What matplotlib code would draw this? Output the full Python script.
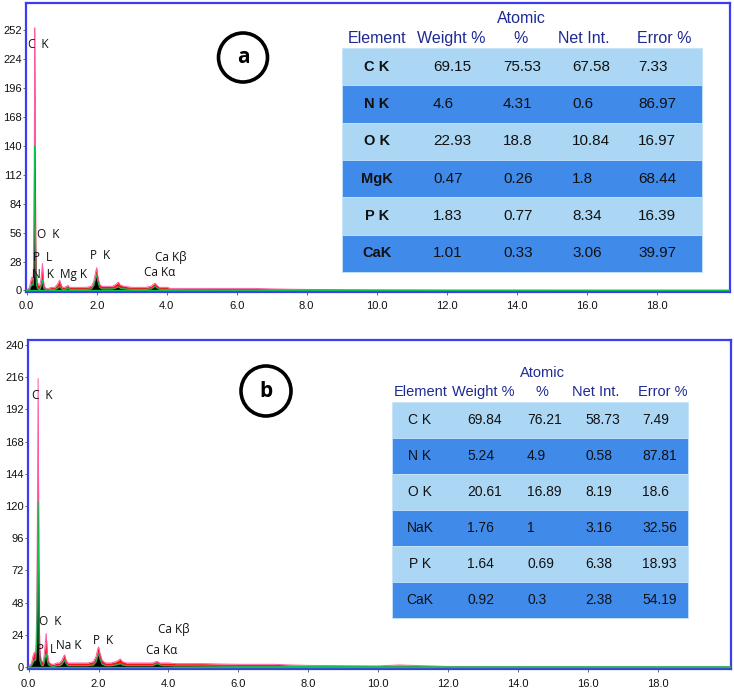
import matplotlib
matplotlib.use("Agg")
import matplotlib.pyplot as plt
from matplotlib import font_manager
from matplotlib.patches import Rectangle, Circle

# ---------------- data ----------------
# Panel (a) spectrum: energy (keV) and counts
A_energy = [0.00, 0.08, 0.12, 0.15, 0.18, 0.20, 0.215, 0.23, 0.245, 0.26, 0.28, 0.31, 0.34, 0.37,
            0.40, 0.43, 0.45, 0.47, 0.49, 0.52, 0.56, 0.62, 0.70, 0.80, 0.88, 0.94, 0.98, 1.02,
            1.08, 1.14, 1.18, 1.22, 1.30, 1.40, 1.55, 1.70, 1.85, 1.92, 1.97, 2.00, 2.03, 2.08,
            2.15, 2.30, 2.45, 2.55, 2.62, 2.68, 2.80, 3.00, 3.20, 3.40, 3.55, 3.62, 3.67, 3.72,
            3.80, 3.95, 4.02, 4.10, 4.30, 4.60, 5.00, 5.50, 6.00, 6.50, 7.00, 7.50, 8.00, 9.00,
            10.0, 12.0, 15.0, 20.1]
A_counts = [0, 3, 10, 13, 10, 30, 120, 254, 150, 40, 14, 8, 5, 5,
            9, 18, 26, 14, 6, 3, 2, 2, 3, 3, 6, 10, 6, 3,
            3, 4, 5, 3, 3, 3, 3, 3, 4, 9, 18, 22, 14, 6,
            4, 4, 4, 6, 8, 5, 4, 3, 3, 3, 4, 6, 7, 5,
            3, 3, 3, 2, 2, 2, 2, 2, 2, 2, 1.5, 1.2, 1, 0.8,
            0.5, 0.3, 0.2, 0.2]
A_fit = [0, 1, 4, 6, 5, 15, 80, 140, 75, 18, 5, 2, 1, 1,
         3, 7, 10, 5, 2, 1, 0.5, 0.5, 1, 1, 2, 4, 2, 1,
         1, 1.5, 2, 1, 1, 1, 1, 1, 1.5, 5, 12, 15, 9, 3,
         1.5, 1.5, 1.5, 2.5, 3.5, 2, 1.5, 1, 1, 1, 1.5, 3, 4, 2.5,
         1, 1, 1, 0.8, 0.8, 0.7, 0.6, 0.5, 0.5, 0.5, 0.4, 0.3, 0.3, 0.2,
         0.2, 0.1, 0.1, 0.1]

# Panel (b) spectrum
B_energy = [0.00, 0.08, 0.12, 0.16, 0.20, 0.23, 0.25, 0.27, 0.285, 0.30, 0.32, 0.35, 0.38, 0.41,
            0.44, 0.47, 0.50, 0.53, 0.56, 0.60, 0.66, 0.72, 0.80, 0.88, 0.95, 1.00, 1.03, 1.07,
            1.12, 1.20, 1.30, 1.40, 1.55, 1.70, 1.85, 1.93, 1.97, 2.00, 2.04, 2.10, 2.20, 2.35,
            2.50, 2.57, 2.62, 2.68, 2.80, 3.00, 3.20, 3.40, 3.55, 3.64, 3.69, 3.75, 3.85, 4.00,
            4.20, 4.60, 5.00, 5.50, 6.00, 6.50, 7.00, 7.50, 8.00, 9.00, 10.0, 10.6, 12.0, 15.0,
            20.1]
B_counts = [0, 3, 8, 11, 10, 40, 120, 215, 120, 40, 12, 6, 4, 4,
            8, 16, 25, 12, 5, 3, 2, 2, 3, 3, 5, 8, 9, 5,
            3, 3, 3, 3, 3, 3, 4, 8, 13, 15, 10, 5, 3, 3,
            4, 5, 6, 4, 3, 3, 3, 3, 3, 4, 4, 3, 3, 3,
            2.5, 2.5, 2.5, 2.2, 2, 2, 2, 1.5, 1.2, 1, 0.8, 1.5, 0.4, 0.2,
            0.2]
B_fit = [0, 1, 3, 5, 5, 20, 70, 123, 65, 18, 5, 2, 1, 1,
         3, 7, 10, 5, 2, 1, 0.5, 0.5, 1, 1, 2, 4, 5, 2.5,
         1, 1, 1, 1, 1, 1, 1.5, 4, 8, 10, 6, 2, 1, 1,
         1.5, 2, 2.5, 1.5, 1, 1, 1, 1, 1, 2, 2.5, 1.5, 1, 1,
         0.8, 0.8, 0.7, 0.6, 0.5, 0.5, 0.5, 0.4, 0.3, 0.3, 0.2, 0.2, 0.1, 0.1,
         0.1]

# Peak labels: (text, energy, counts)
A_peak_labels = [("C  K", 0.04, 238), ("O  K", 0.29, 54), ("P  L", 0.19, 32), ("N  K", 0.15, 15),
                 ("Mg K", 0.95, 15.5), ("P  K", 1.80, 34), ("Ca K\u03b2", 3.67, 32), ("Ca K\u03b1", 3.35, 17.5)]
B_peak_labels = [("C  K", 0.09, 202), ("O  K", 0.29, 34), ("P  L", 0.23, 13), ("Na K", 0.77, 16),
                 ("P  K", 1.83, 20), ("Ca K\u03b2", 3.69, 28), ("Ca K\u03b1", 3.37, 12)]

A_yticks = [0, 28, 56, 84, 112, 140, 168, 196, 224, 252]
B_yticks = [0, 24, 48, 72, 96, 120, 144, 168, 192, 216, 240]
x_ticks = [0, 2, 4, 6, 8, 10, 12, 14, 16, 18]

# Tables
headers = ["Element", "Weight %", "Atomic", "Net Int.", "Error %"]
A_elements = ["C K", "N K", "O K", "MgK", "P K", "CaK"]
A_weight = [69.15, 4.6, 22.93, 0.47, 1.83, 1.01]
A_atomic = [75.53, 4.31, 18.8, 0.26, 0.77, 0.33]
A_netint = [67.58, 0.6, 10.84, 1.8, 8.34, 3.06]
A_error = [7.33, 86.97, 16.97, 68.44, 16.39, 39.97]

B_elements = ["C K", "N K", "O K", "NaK", "P K", "CaK"]
B_weight = [69.84, 5.24, 20.61, 1.76, 1.64, 0.92]
B_atomic = [76.21, 4.9, 16.89, 1, 0.69, 0.3]
B_netint = [58.73, 0.58, 8.19, 3.16, 6.38, 2.38]
B_error = [7.49, 87.81, 18.6, 32.56, 18.93, 54.19]

# ---------------- fonts ----------------
names = {f.name for f in font_manager.fontManager.ttflist}
NARROW = "Liberation Sans Narrow" if "Liberation Sans Narrow" in names else "Liberation Sans"
ARIAL = "Liberation Sans"
plt.rcParams['font.family'] = [NARROW, 'DejaVu Sans']

W, H = 734, 691
fig = plt.figure(figsize=(W / 100, H / 100), dpi=100)
fig.patch.set_facecolor('white')


def px_axes(l, t, r, b, **kw):
    return fig.add_axes([l / W, 1 - b / H, (r - l) / W, (b - t) / H], **kw)


BLUE = '#3c3cf0'
RED = '#ff1010'
PINK = '#ff5aa8'
GREEN = '#10c050'


def draw_spectrum(ax, energy, counts, fit, yticks, ylim, labels):
    ax.fill_between(energy, 0, counts, color=RED, lw=0, zorder=2)
    ax.plot(energy, counts, color=PINK, lw=0.7, zorder=3)
    ax.fill_between(energy, 0, fit, color='black', lw=0, zorder=4)
    ax.plot(energy, fit, color=GREEN, lw=0.8, zorder=5)
    ax.axhline(0, color=GREEN, lw=1.0, zorder=6)
    ax.set_xlim(-0.02, 20.1)
    ax.set_ylim(*ylim)
    ax.set_yticks(yticks)
    ax.set_yticklabels([str(v) for v in yticks])
    ax.set_xticks(x_ticks)
    ax.set_xticklabels(["%.1f" % v for v in x_ticks])
    ax.tick_params(axis='both', labelsize=8, length=2, width=0.6, colors='#555555',
                   labelcolor='#111111')
    ax.tick_params(axis='y', pad=1)
    ax.tick_params(axis='x', pad=5)
    for s in ax.spines.values():
        s.set_color(BLUE)
        s.set_linewidth(1.6)
    for txt, e, c in labels:
        ax.text(e, c, txt, fontsize=8.5, color='#111111', ha='left', va='center',
                family=['Open Sans', 'DejaVu Sans'], zorder=7)


axA = px_axes(26, 3, 730, 291.5)
draw_spectrum(axA, A_energy, A_counts, A_fit, A_yticks, (-1, 278), A_peak_labels)
axB = px_axes(28, 340, 731, 669)
draw_spectrum(axB, B_energy, B_counts, B_fit, B_yticks, (-1.5, 243.7), B_peak_labels)

# ---------------- overlay in pixel coordinates ----------------
ov = fig.add_axes([0, 0, 1, 1], zorder=10)
ov.set_xlim(0, W)
ov.set_ylim(H, 0)
ov.axis('off')

LIGHT = '#abd7f5'
DARK = '#408aea'
HEAD = '#1e2a92'


def draw_table(x0, x1, y0, rowh, elements, cols, elem_x, val_x, head_x, head_y, atomic_y,
               hsize, vsize, esize, elem_bold):
    for i in range(len(elements)):
        ov.add_patch(Rectangle((x0, y0 + i * rowh), x1 - x0, rowh,
                               facecolor=LIGHT if i % 2 == 0 else DARK,
                               edgecolor='#c6e4fa', lw=0.6))
        yc = y0 + (i + 0.5) * rowh
        ov.text(elem_x, yc, elements[i], ha='center', va='center', fontsize=esize,
                fontweight='bold' if elem_bold else 'normal', color='#111111', family=ARIAL)
        for vx, col in zip(val_x, cols):
            ov.text(vx, yc, str(col[i]), ha='left', va='center', fontsize=vsize,
                    color='#111111', family=NARROW)
    for j, (hx, h) in enumerate(zip(head_x, headers)):
        if h == "Atomic":
            ov.text(hx, atomic_y, "Atomic", ha='center', va='center', fontsize=hsize,
                    color=HEAD, family=ARIAL)
            ov.text(hx, head_y, "%", ha='center', va='center', fontsize=hsize,
                    color=HEAD, family=ARIAL)
        else:
            ov.text(hx, head_y, h, ha='center', va='center', fontsize=hsize,
                    color=HEAD, family=ARIAL)


draw_table(342, 702, 48, 37.3, A_elements, [A_weight, A_atomic, A_netint, A_error],
           377, [433, 503, 572, 638], [377, 451, 521, 584, 664], 38, 18, 11.5, 11, 10.5, True)
draw_table(392, 688, 402, 36.0, B_elements, [B_weight, B_atomic, B_netint, B_error],
           420, [467, 527, 585, 642], [421, 483, 542, 596, 663], 392, 373, 10.5, 10, 10, False)

# circled panel letters
for (cx, cy, r, letter) in [(243, 57.5, 24.5, 'a'), (266, 391, 25, 'b')]:
    ov.add_patch(Circle((cx, cy), r, fill=False, lw=2.6, ec='black'))
    ov.text(cx, cy, letter, ha='center', va='center', fontsize=15, fontweight='bold',
            family=['Open Sans', 'DejaVu Sans'], color='black')

fig.savefig("out.png", dpi=100)
